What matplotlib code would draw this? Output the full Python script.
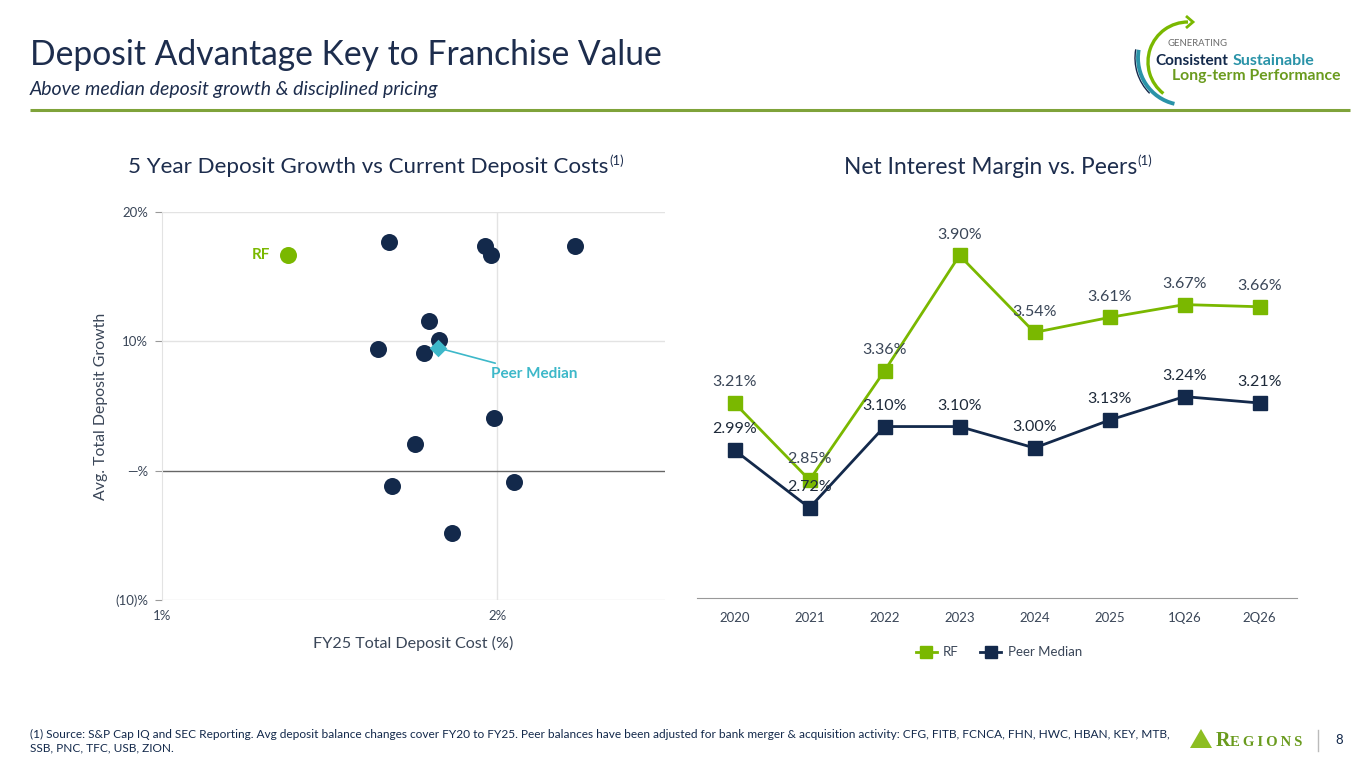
import matplotlib
matplotlib.use("Agg")
import matplotlib.pyplot as plt
from matplotlib.patches import Arc, Polygon

# ---------------- data ----------------
peer_cost = [1.677, 1.964, 1.982, 2.231, 1.795, 1.825, 1.644, 1.780, 1.991, 1.754, 1.685, 2.050, 1.864]
peer_growth = [17.7, 17.4, 16.7, 17.4, 11.6, 10.1, 9.4, 9.1, 4.1, 2.1, -1.2, -0.9, -4.8]
rf_cost = [1.377]
rf_growth = [16.7]
median_cost = [1.822]
median_growth = [9.5]
scatter_yticks = [-10, 0, 10, 20]
scatter_ylabels = ["(10)%", "\u2014%", "10%", "20%"]
scatter_xticks = [1, 2]
scatter_xlabels = ["1%", "2%"]

periods = ["2020", "2021", "2022", "2023", "2024", "2025", "1Q26", "2Q26"]
nim_rf = [3.21, 2.85, 3.36, 3.90, 3.54, 3.61, 3.67, 3.66]
nim_peer = [2.99, 2.72, 3.10, 3.10, 3.00, 3.13, 3.24, 3.21]

# ---------------- style ----------------
NAVY = "#13294B"
GREEN = "#7AB800"
TEAL = "#3DB8C9"
TITLE = "#1D2D4D"
TXT = "#3A4658"
GRID = "#E3E3E3"
FONT = "Lato"
plt.rcParams["font.family"] = [FONT, "DejaVu Sans"]

W, H = 1365, 768
fig = plt.figure(figsize=(W / 100, H / 100), dpi=100)
fig.patch.set_facecolor("white")


def fx(px):
    return px / W


def fy(py):
    return 1 - py / H


# overlay axes in pixel coords
ov = fig.add_axes([0, 0, 1, 1], zorder=-1)
ov.set_xlim(0, W)
ov.set_ylim(H, 0)
ov.axis("off")

# header
ov.text(30, 55, "Deposit Advantage Key to Franchise Value", fontsize=24.2, color=TITLE,
        va="center", ha="left")
ov.text(30, 89, "Above median deposit growth & disciplined pricing", fontsize=14,
        color=TITLE, style="italic", va="center", ha="left")
ov.plot([30, 1350], [110, 110], color="#7FA33A", lw=2.2, solid_capstyle="butt")

# top-right logo (data angles are mirrored because the y axis is inverted)
ov.add_patch(Arc((1188, 62), 80, 80, theta1=128, theta2=270, color="#7AB800", lw=2.4))
ov.add_patch(Arc((1185, 58), 94, 94, theta1=103, theta2=190, color="#2A93A8", lw=2.8))
ov.add_patch(Arc((1185, 58), 100, 100, theta1=135, theta2=190, color=NAVY, lw=1.0))
ov.add_patch(Polygon([[1186, 16], [1193, 22], [1186, 28]], closed=False, fill=False,
                     edgecolor="#7AB800", lw=2.0))
ov.text(1168, 44, "GENERATING", fontsize=6.8, color="#6B6B6B", va="center")
ov.text(1155, 61, "Consistent", fontsize=11, color=NAVY, weight="bold", va="center")
ov.text(1233, 61, "Sustainable", fontsize=11.5, color="#2A93A8", weight="bold", va="center")
ov.text(1172, 76, "Long-term Performance", fontsize=11.3, color="#6A9B1E", weight="bold",
        va="center")

# footer
ov.text(30, 734, "(1) Source: S&P Cap IQ and SEC Reporting. Avg deposit balance changes cover FY20 to FY25. "
        "Peer balances have been adjusted for bank merger & acquisition activity: CFG, FITB, FCNCA, FHN, HWC, HBAN, KEY, MTB,",
        fontsize=8.55, color=NAVY, va="center")
ov.text(30, 748, "SSB, PNC, TFC, USB, ZION.", fontsize=8.55, color=NAVY, va="center")
ov.add_patch(Polygon([[1190, 748], [1201, 729], [1212, 748]], closed=True,
                     facecolor="#8DBE22", edgecolor="none"))
ov.text(1216, 741, "R", fontsize=14.5, color="#6A9B1E", family="Liberation Serif",
        weight="bold", va="center")
ov.text(1230, 742, "E G I O N S".replace(" ", "\u2009"), fontsize=10.6, color="#6A9B1E",
        family=["Liberation Serif", "DejaVu Serif"], weight="bold", va="center")
ov.plot([1318, 1318], [730, 751], color="#BBBBBB", lw=1)
ov.text(1339, 740, "8", fontsize=9.5, color=NAVY, va="center", ha="center")

renderer = fig.canvas.get_renderer()


def title_with_sup(cx, cy, text, size):
    t = ov.text(0, cy, text, fontsize=size, color=TITLE, va="center", ha="left")
    bb = t.get_window_extent(renderer)
    s = ov.text(0, cy - 6, "(1)", fontsize=size * 0.58, color=TITLE, va="center", ha="left")
    sb = s.get_window_extent(renderer)
    total = bb.width + 1 + sb.width
    x0 = cx - total / 2
    t.set_x(x0)
    s.set_x(x0 + bb.width + 1)


title_with_sup(376, 167, "5 Year Deposit Growth vs Current Deposit Costs", 16.1)
title_with_sup(998, 167, "Net Interest Margin vs. Peers", 16.4)

# ---------------- scatter ----------------
ax1 = fig.add_axes([fx(162), fy(600), fx(665) - fx(162), fy(212) - fy(600)])
ax1.set_xlim(1, 2.5)
ax1.set_ylim(-10, 20)
for s in ["top", "right", "bottom"]:
    ax1.spines[s].set_visible(False)
ax1.spines["left"].set_color(GRID)
ax1.axhline(20, color=GRID, lw=1, zorder=0)
ax1.axhline(10, color=GRID, lw=1, zorder=0)
ax1.axhline(-10, color=GRID, lw=1, zorder=0)
ax1.axvline(2, color=GRID, lw=1, zorder=0)
ax1.axhline(0, color="#666666", lw=1, zorder=1)
ax1.set_yticks(scatter_yticks)
ax1.set_yticklabels(scatter_ylabels)
ax1.set_xticks(scatter_xticks)
ax1.set_xticklabels(scatter_xlabels)
ax1.tick_params(axis="y", length=5, color="#999999", labelsize=9.5, labelcolor=TXT, pad=5)
ax1.tick_params(axis="x", length=0, labelsize=9.5, labelcolor=TXT, pad=7)
ax1.set_ylabel("Avg. Total Deposit Growth", fontsize=11.4, color=TXT, labelpad=5)
ax1.set_xlabel("FY25 Total Deposit Cost (%)", fontsize=11.6, color=TXT, labelpad=10)
ax1.scatter(peer_cost, peer_growth, s=150, color=NAVY, zorder=3, linewidths=0)
ax1.scatter(rf_cost, rf_growth, s=150, color=GREEN, zorder=3, linewidths=0)
ax1.scatter(median_cost, median_growth, s=80, marker="D", color=TEAL, zorder=4, linewidths=0)
ax1.annotate("Peer Median", xy=(median_cost[0], median_growth[0]),
             xytext=(median_cost[0] + 0.16, median_growth[0] - 2.0),
             fontsize=11, color=TEAL, weight="bold", va="center", ha="left",
             arrowprops=dict(arrowstyle="-", color=TEAL, lw=1.2, shrinkA=2, shrinkB=5))
ax1.annotate("RF", xy=(rf_cost[0], rf_growth[0]), xytext=(-13, 0), textcoords="offset points",
             fontsize=11, color=GREEN, weight="bold", va="center", ha="right")

# ---------------- line chart ----------------
ax2 = fig.add_axes([fx(697), fy(598), fx(1297) - fx(697), fy(234) - fy(598)])
x = list(range(len(periods)))
ax2.plot(x, nim_rf, color=GREEN, lw=2, marker="s", markersize=10, label="RF", zorder=3)
ax2.plot(x, nim_peer, color=NAVY, lw=2, marker="s", markersize=10, label="Peer Median", zorder=3)
for xi, v in zip(x, nim_rf):
    ax2.annotate(f"{v:.2f}%", xy=(xi, v), xytext=(0, 15), textcoords="offset points",
                 ha="center", va="center", fontsize=11.5, color=TXT, zorder=5)
for xi, v in zip(x, nim_peer):
    ax2.annotate(f"{v:.2f}%", xy=(xi, v), xytext=(0, 15), textcoords="offset points",
                 ha="center", va="center", fontsize=11.5, color="#1E2A3A", zorder=5)
ax2.set_xlim(-0.5, 7.5)
ax2.set_ylim(2.2986, 4.0)
for s in ["top", "right", "left"]:
    ax2.spines[s].set_visible(False)
ax2.spines["bottom"].set_color("#999999")
ax2.set_yticks([])
ax2.set_xticks(x)
ax2.set_xticklabels(periods)
ax2.tick_params(axis="x", length=0, labelsize=9.5, labelcolor=TXT, pad=10)
leg = ax2.legend(loc="upper center", bbox_to_anchor=(0.503, -0.1), ncol=2, frameon=False,
                 fontsize=9.5, handlelength=1.6, columnspacing=1.6, handletextpad=0.5,
                 markerscale=0.9)
for t in leg.get_texts():
    t.set_color(TXT)

fig.savefig("out.png", dpi=100, facecolor="white")
